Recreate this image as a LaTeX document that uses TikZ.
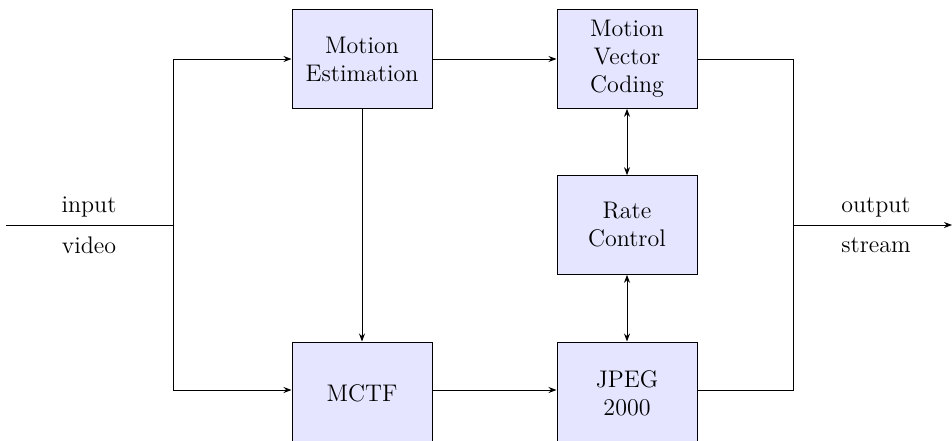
\documentclass[tikz,border=0pt]{standalone}
\usetikzlibrary{arrows.meta}
\begin{document}
\begin{tikzpicture}[x=0.5pt,y=-0.5pt,
  blockbox/.style={draw=black,fill=blue!10,line width=0.5pt,minimum width=70pt,minimum height=49.3pt,inner sep=0pt,align=center,font=\large},
  conn/.style={line width=0.5pt},
  arr/.style={conn,-{Stealth[length=4pt,width=3pt]}},
  darr/.style={conn,{Stealth[length=4pt,width=3pt]}-{Stealth[length=4pt,width=3pt]}},
  lbl/.style={font=\large,inner sep=0pt}]
\useasboundingbox (0,0) rectangle (952,440);
\node[blockbox] (me) at (362,59) {Motion\\Estimation};
\node[blockbox] (mvc) at (627,59) {Motion\\Vector\\Coding};
\node[blockbox] (rc) at (627,225) {Rate\\Control};
\node[blockbox,minimum height=51pt] (mctf) at (362,393) {MCTF};
\node[blockbox,minimum height=51pt] (jpeg) at (627,393) {JPEG\\2000};
\coordinate (in) at (6,225);
\coordinate (j1) at (173,225);
\coordinate (j2) at (793,225);
\coordinate (out) at (952,225);
\node[lbl] (tin) at (89,207) {input};
\node[lbl] (tvid) at (89,245) {video};
\node[lbl] (tout) at (876,207) {output};
\node[lbl] (tstr) at (876,245) {stream};
\draw[conn] (in) -- (j1);
\draw[arr] (j1) |- ([yshift=1.5pt]mctf.west);
\draw[arr] (j1) |- (me.west);
\draw[arr] (me) -- (mvc);
\draw[arr] (me) -- (mctf);
\draw[arr] ([yshift=1.5pt]mctf.east) -- ([yshift=1.5pt]jpeg.west);
\draw[darr] (mvc) -- (rc);
\draw[darr] (rc) -- (jpeg);
\draw[conn] (mvc.east) -| (j2);
\draw[conn] ([yshift=1.5pt]jpeg.east) -| (j2);
\draw[arr] (j2) -- (out);
\end{tikzpicture}
\end{document}
